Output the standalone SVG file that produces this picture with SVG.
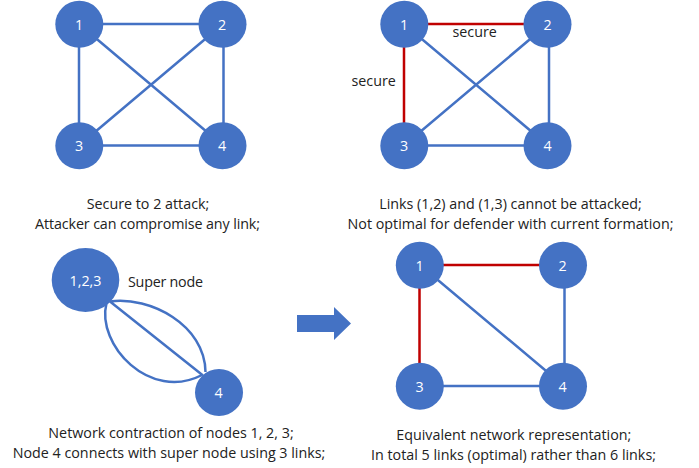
<svg xmlns="http://www.w3.org/2000/svg" width="699" height="468" viewBox="0 0 699 468">
<style>
.n{fill:#4472c4}
.l{stroke:#4472c4;stroke-width:2.500;fill:none}
.r{stroke:#c00000;stroke-width:2.500;fill:none}
text{font-family:"Open Sans","Noto Sans",sans-serif;font-size:14.300px;fill:#222}
.c{text-anchor:middle}
.w{fill:#fff}
</style>
<rect width="699" height="468" fill="#fff"/>
<g id="connectors">
<path class="l" d="M79 24H223M79 24V145M223.500 24V145M79 145.500H223M79 24L223 145.500M223 24L79 145.500"/>
<path class="l" d="M549 24V145M404 145.500H548M404 24L548 145.500M548 24L404 145.500"/>
<path class="r" d="M404 24H548M404 24V145"/>
<path class="l" d="M564.500 265V386M420 265L564 386M420 386H564"/>
<path class="r" d="M420 265H564M419.500 265V385"/>
<path class="l" d="M110 301.500L203 375.500M110 301.500C150 296 205 325 205.500 372M106.500 303C96 345 150 402 202 375"/>
</g>
<g id="n1"><ellipse class="n" cx="79.300" cy="24.300" rx="24" ry="23.500"/><text class="c w" x="79" y="29.500">1</text></g>
<g id="n2"><ellipse class="n" cx="222.500" cy="24.300" rx="24" ry="23.500"/><text class="c w" x="222" y="29.500">2</text></g>
<g id="n3"><ellipse class="n" cx="79.300" cy="145.800" rx="24" ry="23.500"/><text class="c w" x="79" y="151">3</text></g>
<g id="n4"><ellipse class="n" cx="222.500" cy="145.800" rx="24" ry="23.500"/><text class="c w" x="222" y="151">4</text></g>
<g id="m1"><ellipse class="n" cx="404.300" cy="24.300" rx="24" ry="23.500"/><text class="c w" x="404" y="29.500">1</text></g>
<g id="m2"><ellipse class="n" cx="547.500" cy="24.300" rx="24" ry="23.500"/><text class="c w" x="547.500" y="29.500">2</text></g>
<g id="m3"><ellipse class="n" cx="404.300" cy="145.800" rx="24" ry="23.500"/><text class="c w" x="404" y="151">3</text></g>
<g id="m4"><ellipse class="n" cx="547.500" cy="145.800" rx="24" ry="23.500"/><text class="c w" x="547.500" y="151">4</text></g>
<g id="s123"><ellipse class="n" cx="85.500" cy="280" rx="33.800" ry="32"/><text class="c w" x="85.500" y="285.500">1,2,3</text></g>
<g id="s4"><ellipse class="n" cx="219" cy="392.500" rx="24" ry="23.500"/><text class="c w" x="218.500" y="398">4</text></g>
<g id="r1"><ellipse class="n" cx="419.800" cy="265.300" rx="24" ry="23.500"/><text class="c w" x="419.500" y="270.500">1</text></g>
<g id="r2"><ellipse class="n" cx="563" cy="265.300" rx="24" ry="23.500"/><text class="c w" x="562.500" y="270.500">2</text></g>
<g id="r3"><ellipse class="n" cx="419.800" cy="386.200" rx="24" ry="23.500"/><text class="c w" x="419.500" y="391.500">3</text></g>
<g id="r4"><ellipse class="n" cx="563" cy="386.200" rx="24" ry="23.500"/><text class="c w" x="562.500" y="391.500">4</text></g>
<path id="arrow" d="M297 315H334V307L351 323.500L334 340V332H297Z" fill="#4472c4"/>
<text x="452.500" y="37">secure</text>
<text x="351.500" y="86">secure</text>
<text x="128" y="287" textLength="75">Super node</text>
<text class="c" x="148" y="209">Secure to 2 attack;</text>
<text class="c" x="147.500" y="229" textLength="225">Attacker can compromise any link;</text>
<text class="c" x="510.500" y="208.500">Links (1,2) and (1,3) cannot be attacked;</text>
<text class="c" x="510.500" y="228.500">Not optimal for defender with current formation;</text>
<text class="c" x="171" y="438">Network contraction of nodes 1, 2, 3;</text>
<text class="c" x="169" y="458">Node 4 connects with super node using 3 links;</text>
<text class="c" x="513.800" y="439.500">Equivalent network representation;</text>
<text class="c" x="513.500" y="459.500">In total 5 links (optimal) rather than 6 links;</text>
</svg>
